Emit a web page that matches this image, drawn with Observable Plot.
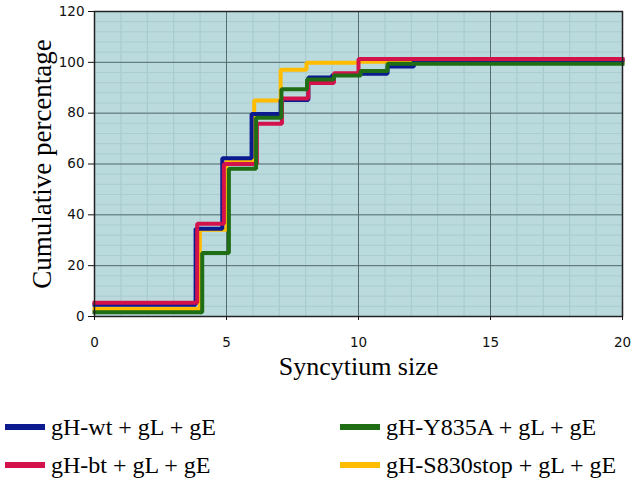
<!DOCTYPE html>
<html>
<head>
<meta charset="utf-8">
<script src="https://cdn.jsdelivr.net/npm/d3@7"></script>
<script src="https://cdn.jsdelivr.net/npm/@observablehq/plot@0.6"></script>
<style>
  body { margin: 0; background: #ffffff; width: 637px; height: 481px; overflow: hidden; position: relative; }
  #legend { position: absolute; left: 0; top: 0; width: 637px; height: 481px; pointer-events: none; }
  .item { position: absolute; display: flex; align-items: center; font-family: "Liberation Serif", "Times New Roman", serif; font-size: 24px; color: #000; white-space: nowrap; }
  .sw { display: inline-block; width: 40px; height: 6px; margin-right: 6px; }
</style>
</head>
<body>
<div id="chart"></div>
<div id="legend"></div>
<script>
// ---- Data ----
const seriesNames = ["gH-wt + gL + gE", "gH-bt + gL + gE", "gH-Y835A + gL + gE", "gH-S830stop + gL + gE"];
const seriesColors = ["#0b1a8e", "#d3124c", "#1f6d14", "#ffbc00"];

// step positions (syncytium size) and cumulative percentage after each step
const wtX = [0, 3.83, 4.84, 5.95, 7.05, 8.1, 9.0, 10.08, 11.1, 12.1, 20];
const wtY = [4.6, 34.5, 62.3, 79.7, 85.2, 94.0, 95.0, 95.5, 98.4, 100.8, 100.8];

const btX = [0, 3.89, 4.9, 6.15, 7.1, 8.1, 9.07, 10.0, 20];
const btY = [5.4, 36.5, 60.0, 75.8, 85.8, 91.9, 95.7, 101.3, 101.3];

const y835aX = [0, 4.08, 5.09, 6.12, 7.08, 8.05, 9.07, 10.08, 11.1, 20];
const y835aY = [1.7, 25.0, 58.1, 78.2, 89.4, 93.2, 94.8, 96.6, 99.4, 99.4];

const s830X = [0, 3.99, 5.0, 6.05, 7.05, 8.03, 10.0, 20];
const s830Y = [3.0, 34.1, 61.4, 85.0, 97.1, 99.8, 100.2, 100.2];

const xTicks = [0, 5, 10, 15, 20];
const yTicks = [0, 20, 40, 60, 80, 100, 120];
const xMinorGrid = d3.range(0, 21, 1);
const yMinorGrid = d3.range(0, 121, 4);
const xMajorGrid = [5, 10, 15];
const yMajorGrid = [20, 40, 60, 80, 100, 120];

const xTitle = "Syncytium size";
const yTitle = "Cumulative percentage";

// ---- Build table ----
const seriesDefs = [
  {name: seriesNames[3], xs: s830X, ys: s830Y},
  {name: seriesNames[0], xs: wtX, ys: wtY},
  {name: seriesNames[1], xs: btX, ys: btY},
  {name: seriesNames[2], xs: y835aX, ys: y835aY}
];
const rows = [];
seriesDefs.forEach(s => s.xs.forEach((x, i) => rows.push({series: s.name, x, y: s.ys[i]})));

const chart = Plot.plot({
  width: 637,
  height: 392,
  marginLeft: 94,
  marginRight: 15,
  marginTop: 11,
  marginBottom: 76,
  style: {background: "#ffffff", fontFamily: "'DejaVu Sans', sans-serif", fontSize: "13px", color: "#111"},
  x: {domain: [0, 20]},
  y: {domain: [0, 120]},
  color: {domain: seriesNames, range: seriesColors},
  marks: [
    Plot.frame({fill: "#badadd"}),
    Plot.gridX(xMinorGrid, {stroke: "#a6c9cc", strokeOpacity: 1, strokeWidth: 1}),
    Plot.gridY(yMinorGrid, {stroke: "#aacdd0", strokeOpacity: 1, strokeWidth: 1}),
    Plot.gridX(xMajorGrid, {stroke: "#566d6e", strokeOpacity: 1, strokeWidth: 1}),
    Plot.gridY(yMajorGrid, {stroke: "#566d6e", strokeOpacity: 1, strokeWidth: 1}),
    Plot.line(rows, {x: "x", y: "y", z: "series", stroke: "series", curve: "step-after", strokeWidth: 4, strokeLinejoin: "miter", strokeLinecap: "square"}),
    Plot.frame({stroke: "#222", strokeWidth: 1.5}),
    Plot.axisX(xTicks, {tickSize: 4, tickPadding: 17, label: null, fontSize: 13.5}),
    Plot.axisY(yTicks, {tickSize: 6, tickPadding: 4, label: null, fontSize: 13.5}),
    Plot.text([xTitle], {frameAnchor: "bottom", dy: 50, lineAnchor: "middle", textAnchor: "middle", fontSize: 26, fontFamily: "'Liberation Serif', serif", fill: "#000"}),
    Plot.text([yTitle], {frameAnchor: "left", dx: -52, rotate: -90, textAnchor: "middle", lineAnchor: "middle", fontSize: 27, fontFamily: "'Liberation Serif', serif", fill: "#000"})
  ]
});
document.getElementById("chart").appendChild(chart);

// ---- Legend (HTML, below the plot) ----
const legendSlots = [
  {i: 0, left: 5, top: 427},
  {i: 1, left: 5, top: 465},
  {i: 2, left: 340, top: 427},
  {i: 3, left: 340, top: 465}
];
const legend = document.getElementById("legend");
legendSlots.forEach(s => {
  const item = document.createElement("div");
  item.className = "item";
  item.style.left = s.left + "px";
  item.style.top = (s.top - 16) + "px";
  item.style.height = "32px";
  const sw = document.createElement("span");
  sw.className = "sw";
  sw.style.background = seriesColors[s.i];
  const tx = document.createElement("span");
  tx.textContent = seriesNames[s.i];
  item.appendChild(sw);
  item.appendChild(tx);
  legend.appendChild(item);
});
</script>
</body>
</html>
